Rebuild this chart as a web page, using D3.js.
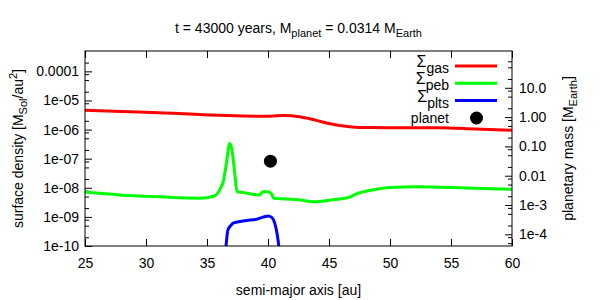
<!DOCTYPE html>
<html>
<head>
<meta charset="utf-8">
<script src="https://cdn.jsdelivr.net/npm/d3@7"></script>
<style>
  body { margin: 0; background: #fff; }
  svg { display: block; font-family: "Liberation Sans", Arial, sans-serif; }
</style>
</head>
<body>
<svg id="chart" width="600" height="300"></svg>
<script>
// DATA
const gasAu = [25, 28, 31, 34, 36.6, 39.5, 41.3, 42.6, 43.6, 44.4, 45.2, 46.2, 47.2, 48.5, 50, 54, 57, 60];
const gasSigma = [4.64e-6, 4.15e-6, 3.8e-6, 3.35e-6, 3.04e-6, 2.88e-6, 3.02e-6, 2.74e-6, 2.25e-6, 1.85e-6, 1.55e-6, 1.32e-6, 1.21e-6, 1.17e-6, 1.16e-6, 1.15e-6, 1.05e-6, 9.5e-7];

const pebAu = [25, 27.83, 31.1, 34.4, 35.49, 36.04, 36.37, 36.59, 36.86, 37.05, 37.27, 37.46, 37.95, 39.32, 39.59, 40.0, 40.28, 40.47, 41.51, 42.6, 43.69, 45.33, 46.7, 47.25, 48.62, 50, 52.2, 54.9, 59.3, 60];
const pebSigma = [7.1e-9, 5.7e-9, 4.9e-9, 4.4e-9, 5.0e-9, 8.5e-9, 1.9e-8, 7.1e-8, 3.3e-7, 2.0e-7, 3.2e-8, 7.4e-9, 6.9e-9, 5.7e-9, 7.3e-9, 7.3e-9, 6.2e-9, 4.4e-9, 4.1e-9, 3.8e-9, 3.3e-9, 3.9e-9, 4.8e-9, 6.2e-9, 8.5e-9, 1.02e-8, 1.08e-8, 1.02e-8, 9.0e-9, 8.9e-9];

const pltAu = [36.5, 36.72, 37.0, 37.13, 38.23, 39.05, 39.59, 40.0, 40.28, 40.55, 40.74, 40.88, 40.95];
const pltSigma = [5e-11, 3.6e-10, 5.3e-10, 6.1e-10, 7.5e-10, 8.3e-10, 9.8e-10, 1.08e-9, 9.8e-10, 6.1e-10, 2.7e-10, 1e-10, 4e-11];

const planetAu = 40.2;
const planetMass = 0.0314;

const xTicks = [25, 30, 35, 40, 45, 50, 55, 60];
const yTicks = [1e-10, 1e-9, 1e-8, 1e-7, 1e-6, 1e-5, 1e-4];
const yLabels = ["1e-10", "1e-09", "1e-08", "1e-07", "1e-06", "1e-05", "0.0001"];
const y2Ticks = [1e-4, 1e-3, 0.01, 0.1, 1, 10];
const y2Labels = ["1e-4", "1e-3", "0.01", "0.10", "1.00", "10.0"];
const minorSteps = [2, 5, 8];

// LAYOUT
const mLeft = 85, mRight = 512, mTop = 51, mBottom = 246;
const svg = d3.select("#chart");

// SCALES
const xScale = d3.scaleLinear().domain([25, 60]).range([mLeft, mRight]);
const yScale = d3.scaleLog().domain([1e-10, 5e-4]).range([mBottom, mTop]);
const y2Scale = d3.scaleLog().domain([4e-5, 180]).range([mBottom, mTop]);

const minorOf = (scale) => {
  const [a, b] = scale.domain();
  const out = [];
  for (let e = Math.floor(Math.log10(a)); e <= Math.ceil(Math.log10(b)); e++) {
    minorSteps.forEach(m => {
      const v = m * Math.pow(10, e);
      if (v > a && v < b) out.push(v);
    });
  }
  return out;
};

// CLIP
svg.append("clipPath").attr("id", "clip")
  .append("rect").attr("x", mLeft).attr("y", mTop)
  .attr("width", mRight - mLeft).attr("height", mBottom - mTop);

// AXES (ticks inward)
const xAxisB = d3.axisBottom(xScale).tickValues(xTicks).tickSize(-7).tickPadding(12).tickFormat(d3.format("d"));
const xAxisT = d3.axisTop(xScale).tickValues(xTicks).tickSize(-7).tickFormat("");
const yAxis = d3.axisLeft(yScale).tickValues(yTicks).tickSize(-7).tickPadding(6).tickFormat((d, i) => yLabels[i]);
const yMinor = d3.axisLeft(yScale).tickValues(minorOf(yScale)).tickSize(-4).tickFormat("");
const y2Axis = d3.axisRight(y2Scale).tickValues(y2Ticks).tickSize(-7).tickPadding(7).tickFormat((d, i) => y2Labels[i]);
const y2Minor = d3.axisRight(y2Scale).tickValues(minorOf(y2Scale)).tickSize(-4).tickFormat("");

const styleAxis = g => {
  g.select(".domain").remove();
  g.selectAll("line").attr("stroke", "#000");
  g.selectAll("text").attr("fill", "#000").style("font-size", "14px");
};

svg.append("g").attr("transform", `translate(0,${mBottom})`).call(xAxisB).call(styleAxis);
svg.append("g").attr("transform", `translate(0,${mTop})`).call(xAxisT).call(styleAxis);
svg.append("g").attr("transform", `translate(${mLeft},0)`).call(yAxis).call(styleAxis);
svg.append("g").attr("transform", `translate(${mLeft},0)`).call(yMinor).call(styleAxis);
svg.append("g").attr("transform", `translate(${mRight},0)`).call(y2Axis).call(styleAxis);
svg.append("g").attr("transform", `translate(${mRight},0)`).call(y2Minor).call(styleAxis);

// CURVES
const line = d3.line()
  .x(d => xScale(d[0]))
  .y(d => yScale(d[1]))
  .curve(d3.curveMonotoneX);

const plot = svg.append("g").attr("clip-path", "url(#clip)");
const series = [
  { a: gasAu, s: gasSigma, color: "#ff0000" },
  { a: pebAu, s: pebSigma, color: "#00ff00" },
  { a: pltAu, s: pltSigma, color: "#0000ff" }
];
series.forEach(ser => {
  plot.append("path")
    .attr("d", line(d3.zip(ser.a, ser.s)))
    .attr("fill", "none")
    .attr("stroke", ser.color)
    .attr("stroke-width", 3)
    .attr("stroke-linejoin", "round");
});

plot.append("circle")
  .attr("cx", xScale(planetAu))
  .attr("cy", y2Scale(planetMass))
  .attr("r", 6.5)
  .attr("fill", "#000");

// FRAME
svg.append("rect")
  .attr("x", mLeft).attr("y", mTop)
  .attr("width", mRight - mLeft).attr("height", mBottom - mTop)
  .attr("fill", "none").attr("stroke", "#000").attr("stroke-width", 1);

// TEXT HELPERS
const richText = (g, parts) => {
  parts.forEach(p => {
    const t = g.append("tspan").text(p.t);
    if (p.sub) t.attr("dy", 4).style("font-size", "11px");
    else if (p.sup) t.attr("dy", -6).style("font-size", "11px");
    if (p.back) t.attr("dy", p.back);
  });
};

// TITLE
const title = svg.append("text")
  .attr("x", (mLeft + mRight) / 2).attr("y", 33)
  .attr("text-anchor", "middle").style("font-size", "14px");
richText(title, [
  { t: "t = 43000 years, M" },
  { t: "planet", sub: true },
  { t: " = 0.0314 M", back: -4 },
  { t: "Earth", sub: true }
]);

// AXIS LABELS
svg.append("text")
  .attr("x", (mLeft + mRight) / 2).attr("y", 295)
  .attr("text-anchor", "middle").style("font-size", "14px")
  .text("semi-major axis [au]");

const yl = svg.append("text")
  .attr("transform", `translate(23,${(mTop + mBottom) / 2}) rotate(-90)`)
  .attr("text-anchor", "middle").style("font-size", "14px");
richText(yl, [
  { t: "surface density [M" },
  { t: "Sol", sub: true },
  { t: "/au", back: -4 },
  { t: "2", sup: true },
  { t: "]", back: 6 }
]);

const y2l = svg.append("text")
  .attr("transform", `translate(573,${(mTop + mBottom) / 2}) rotate(-90)`)
  .attr("text-anchor", "middle").style("font-size", "14px");
richText(y2l, [
  { t: "planetary mass [M" },
  { t: "Earth", sub: true },
  { t: "]", back: -4 }
]);

// LEGEND
const legend = [
  { sub: "gas", color: "#ff0000" },
  { sub: "peb", color: "#00ff00" },
  { sub: "plts", color: "#0000ff" }
];
legend.forEach((d, i) => {
  const y = 66 + i * 17.3;
  const t = svg.append("text")
    .attr("x", 449).attr("y", y + 3)
    .attr("text-anchor", "end").style("font-size", "16px");
  t.append("tspan").text("\u03a3").attr("dy", -2);
  t.append("tspan").text(d.sub).attr("dy", 6).style("font-size", "14px");
  svg.append("line")
    .attr("x1", 455).attr("x2", 497)
    .attr("y1", y).attr("y2", y)
    .attr("stroke", d.color).attr("stroke-width", 3);
});
svg.append("text")
  .attr("x", 449).attr("y", 123)
  .attr("text-anchor", "end").style("font-size", "14px")
  .text("planet");
svg.append("circle")
  .attr("cx", 476.5).attr("cy", 118).attr("r", 6.5).attr("fill", "#000");
</script>
</body>
</html>
